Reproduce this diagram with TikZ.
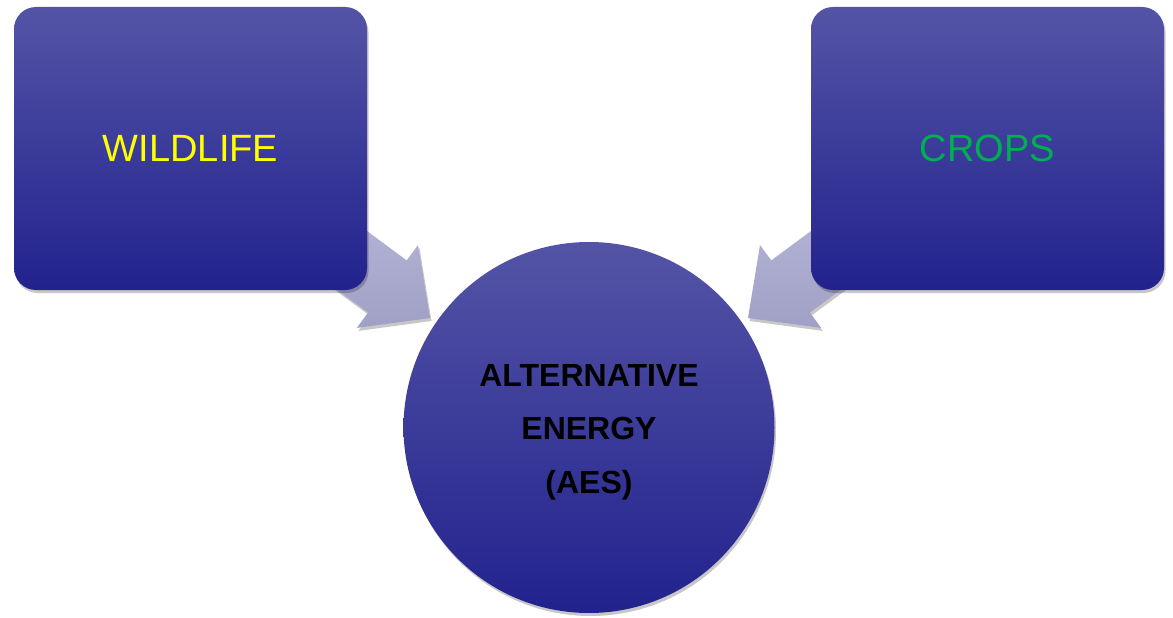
\documentclass[tikz,border=0pt]{standalone}
\usepackage{fontspec}
\setmainfont{Liberation Sans}
\usetikzlibrary{shadows}
\definecolor{topblue}{RGB}{84,84,166}
\definecolor{botblue}{RGB}{34,34,142}
\definecolor{arrowtop}{RGB}{180,180,214}
\definecolor{arrowbot}{RGB}{160,160,198}
\definecolor{cropgreen}{RGB}{0,176,80}
\definecolor{wildyellow}{RGB}{255,255,0}
\tikzset{
  softshadow/.style={drop shadow={shadow xshift=1.5pt, shadow yshift=-3pt, opacity=0.22, fill=black}},
  bluebox/.style={rectangle, rounded corners=22pt, minimum width=353pt, minimum height=283pt,
    top color=topblue, bottom color=botblue, draw=none, softshadow, inner sep=0pt,
    font=\fontsize{38}{44}\selectfont},
  bluecircle/.style={circle, minimum size=371pt, inner sep=0pt,
    top color=topblue, bottom color=botblue, draw=none, softshadow},
  circletext/.style={align=center, inner sep=0pt, font=\fontsize{32}{53.5}\selectfont\bfseries},
  blockarrow/.style={top color=arrowtop, bottom color=arrowbot, draw=none, softshadow}
}
\begin{document}
\begin{tikzpicture}[x=1pt,y=-1pt]
\useasboundingbox[fill=white] (0,0) rectangle (1173,618);
% arrow geometry (left), mirrored for right
\coordinate (L1) at (303.7,265.0);
\coordinate (L2) at (368.1,312.6);
\coordinate (L3) at (356.8,327.9);
\coordinate (LT) at (430,318);
\coordinate (L4) at (418.0,245.1);
\coordinate (L5) at (406.7,260.4);
\coordinate (L6) at (342.4,212.8);
\coordinate (R1) at (874.3,265.0);
\coordinate (R2) at (809.9,312.6);
\coordinate (R3) at (821.2,327.9);
\coordinate (RT) at (748,318);
\coordinate (R4) at (760.0,245.1);
\coordinate (R5) at (771.3,260.4);
\coordinate (R6) at (835.6,212.8);
\path[blockarrow] (L1) -- (L2) -- (L3) -- (LT) -- (L4) -- (L5) -- (L6) -- cycle;
\path[blockarrow] (R1) -- (R2) -- (R3) -- (RT) -- (R4) -- (R5) -- (R6) -- cycle;
% boxes
\node[bluebox, text=wildyellow] (wild) at (190.5,148.5) {WILDLIFE};
\node[bluebox, text=cropgreen] (crops) at (987.5,148.5) {CROPS};
% centre circle
\node[bluecircle] (aes) at (589,427.5) {};
\node[circletext] (aestext) at (589,432) {ALTERNATIVE\\ENERGY\\(AES)};
\end{tikzpicture}
\end{document}
